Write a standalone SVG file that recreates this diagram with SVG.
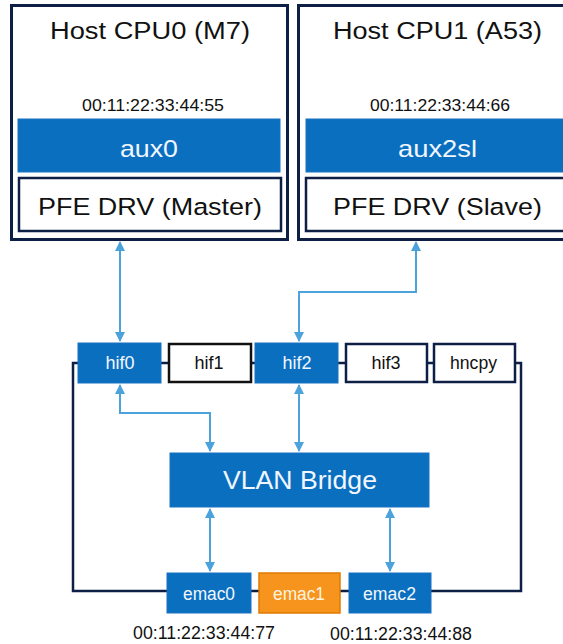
<svg xmlns="http://www.w3.org/2000/svg" width="563" height="644" viewBox="0 0 563 644">
<defs>
<style>
text{font-family:"Liberation Sans",Arial,sans-serif;text-anchor:middle}
.host{fill:#fff;stroke:#0d1f45;stroke-width:3}
.blue{fill:#0b6fc0;stroke:#1a73c0;stroke-width:1}
.wbox{fill:#fff;stroke:#0d1f45;stroke-width:2.5}
.wt{fill:#f2f7ff}
.dt{fill:#111}
.conn{fill:none;stroke:#4ca3dc;stroke-width:2;marker-start:url(#ah);marker-end:url(#ah)}
.loop{fill:none;stroke:#0d1f45;stroke-width:2.5}
</style>
<marker id="ah" viewBox="0 0 10 10" refX="9" refY="5" markerWidth="5" markerHeight="5" orient="auto-start-reverse" markerUnits="strokeWidth">
<path d="M0,0 L10,5 L0,10 z" fill="#4ca3dc"/>
</marker>
</defs>
<g id="loop">
<path class="loop" d="M78,363 H73 V591 H521 V363 H515"/>
<path class="loop" d="M161,363 H168 M251,363 H255 M338,363 H345 M427,363 H433"/>
</g>
<g id="cpu0">
<rect class="host" x="11.5" y="5.5" width="276" height="234"/>
<text x="150" y="38.5" font-size="23" textLength="200" lengthAdjust="spacingAndGlyphs" class="dt">Host CPU0 (M7)</text>
<text x="153" y="111" font-size="16" textLength="142" lengthAdjust="spacingAndGlyphs" class="dt">00:11:22:33:44:55</text>
</g>
<g id="aux0">
<rect class="blue" x="18" y="119" width="262" height="53"/>
<text x="149" y="157" font-size="24" textLength="58" lengthAdjust="spacingAndGlyphs" class="wt">aux0</text>
</g>
<g id="drv0">
<rect class="wbox" x="19" y="178" width="262" height="53"/>
<text x="150" y="214.5" font-size="24.5" textLength="224" lengthAdjust="spacingAndGlyphs" class="dt">PFE DRV (Master)</text>
</g>
<g id="cpu1">
<rect class="host" x="298.5" y="5.5" width="278" height="234"/>
<text x="437.5" y="38.5" font-size="23" textLength="209" lengthAdjust="spacingAndGlyphs" class="dt">Host CPU1 (A53)</text>
<text x="440" y="111" font-size="16" textLength="140" lengthAdjust="spacingAndGlyphs" class="dt">00:11:22:33:44:66</text>
</g>
<g id="aux2sl">
<rect class="blue" x="306" y="119" width="264" height="53"/>
<text x="437.5" y="157" font-size="24" textLength="79" lengthAdjust="spacingAndGlyphs" class="wt">aux2sl</text>
</g>
<g id="drv1">
<rect class="wbox" x="306" y="178" width="264" height="53"/>
<text x="437.5" y="214.5" font-size="24.5" textLength="209" lengthAdjust="spacingAndGlyphs" class="dt">PFE DRV (Slave)</text>
</g>
<g id="hif0">
<rect class="blue" x="78" y="343" width="83" height="40"/>
<text x="120" y="369" font-size="18" class="wt">hif0</text>
</g>
<g id="hif1">
<rect x="169" y="344" width="82" height="38" fill="#fff" stroke="#111" stroke-width="2.5"/>
<text x="209" y="369" font-size="18" class="dt">hif1</text>
</g>
<g id="hif2">
<rect class="blue" x="255" y="343" width="83" height="40"/>
<text x="297" y="369" font-size="18" class="wt">hif2</text>
</g>
<g id="hif3">
<rect class="wbox" x="346" y="344" width="81" height="38"/>
<text x="386" y="369" font-size="18" class="dt">hif3</text>
</g>
<g id="hncpy">
<rect class="wbox" x="434" y="344" width="81" height="38"/>
<text x="473.5" y="369" font-size="18" textLength="47" lengthAdjust="spacingAndGlyphs" class="dt">hncpy</text>
</g>
<g id="vlan">
<rect class="blue" x="170" y="453" width="259" height="54"/>
<text x="300" y="488.5" font-size="26.5" textLength="154" lengthAdjust="spacingAndGlyphs" class="wt">VLAN Bridge</text>
</g>
<g id="emac0">
<rect class="blue" x="167" y="573" width="84" height="40"/>
<text x="209" y="600" font-size="17.5" textLength="52" lengthAdjust="spacingAndGlyphs" class="wt">emac0</text>
</g>
<g id="emac1">
<rect x="259" y="573" width="81" height="40" fill="#f7941d" stroke="#e07b00" stroke-width="1.5"/>
<text x="299" y="600" font-size="17.5" textLength="52" lengthAdjust="spacingAndGlyphs" fill="#fff4e0">emac1</text>
</g>
<g id="emac2">
<rect class="blue" x="349" y="573" width="82" height="40"/>
<text x="389.5" y="600" font-size="17.5" textLength="53" lengthAdjust="spacingAndGlyphs" class="wt">emac2</text>
</g>
<g id="maclabels">
<text x="204" y="639" font-size="17.5" textLength="142" lengthAdjust="spacingAndGlyphs" class="dt">00:11:22:33:44:77</text>
<text x="401" y="639.5" font-size="17.5" textLength="142" lengthAdjust="spacingAndGlyphs" class="dt">00:11:22:33:44:88</text>
</g>
<g id="connectors">
<path class="conn" d="M120,242 V341"/>
<path class="conn" d="M416,242 V292 H299 V341"/>
<path class="conn" d="M120,385 V413 H210 V451"/>
<path class="conn" d="M299,385 V451"/>
<path class="conn" d="M210,509 V571"/>
<path class="conn" d="M390,509 V571"/>
</g>
</svg>
